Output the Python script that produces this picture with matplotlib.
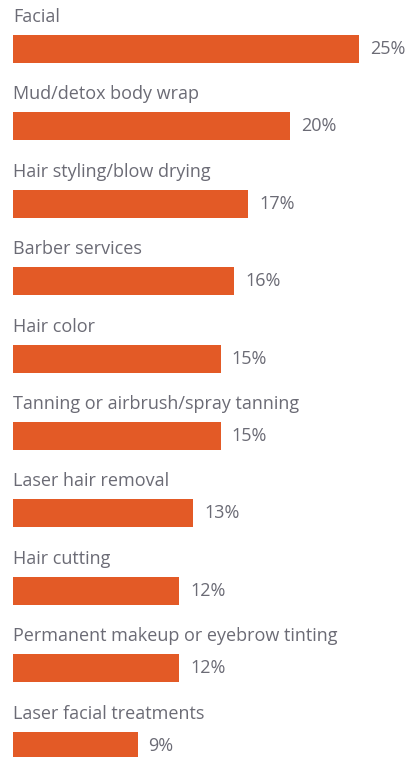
import matplotlib.pyplot as plt

services = ["Facial", "Mud/detox body wrap", "Hair styling/blow drying", "Barber services",
            "Hair color", "Tanning or airbrush/spray tanning", "Laser hair removal",
            "Hair cutting", "Permanent makeup or eyebrow tinting", "Laser facial treatments"]
shares = [25, 20, 17, 16, 15, 15, 13, 12, 12, 9]

W, H = 408, 757
px_per_pct = 13.84   # horizontal scale
pitch = 77.4         # vertical distance between bars, px
left = 13            # bar start, px
first_center = 49    # centre of the first bar, px from top

bar_color = "#E35A26"
text_color = "#6B6B75"

plt.rcParams['font.family'] = ['Open Sans', 'DejaVu Sans']

fig = plt.figure(figsize=(W / 100, H / 100), dpi=100)
ax = fig.add_axes([0, 0, 1, 1])
ax.set_xlim(-left / px_per_pct, (W - left) / px_per_pct)
ax.set_ylim((H - first_center) / pitch, -first_center / pitch)
ax.axis("off")

pos = list(range(len(services)))
ax.barh(pos, shares, height=28 / pitch, color=bar_color, linewidth=0)

for i, (name, v) in enumerate(zip(services, shares)):
    ax.text(0, i - 27 / pitch, name, ha="left", va="baseline",
            fontsize=13, color=text_color)
    ax.text(v + 11 / px_per_pct, i, f"{v}%", ha="left", va="center",
            fontsize=13, color=text_color)

fig.savefig("out.png", dpi=100, facecolor="white")
